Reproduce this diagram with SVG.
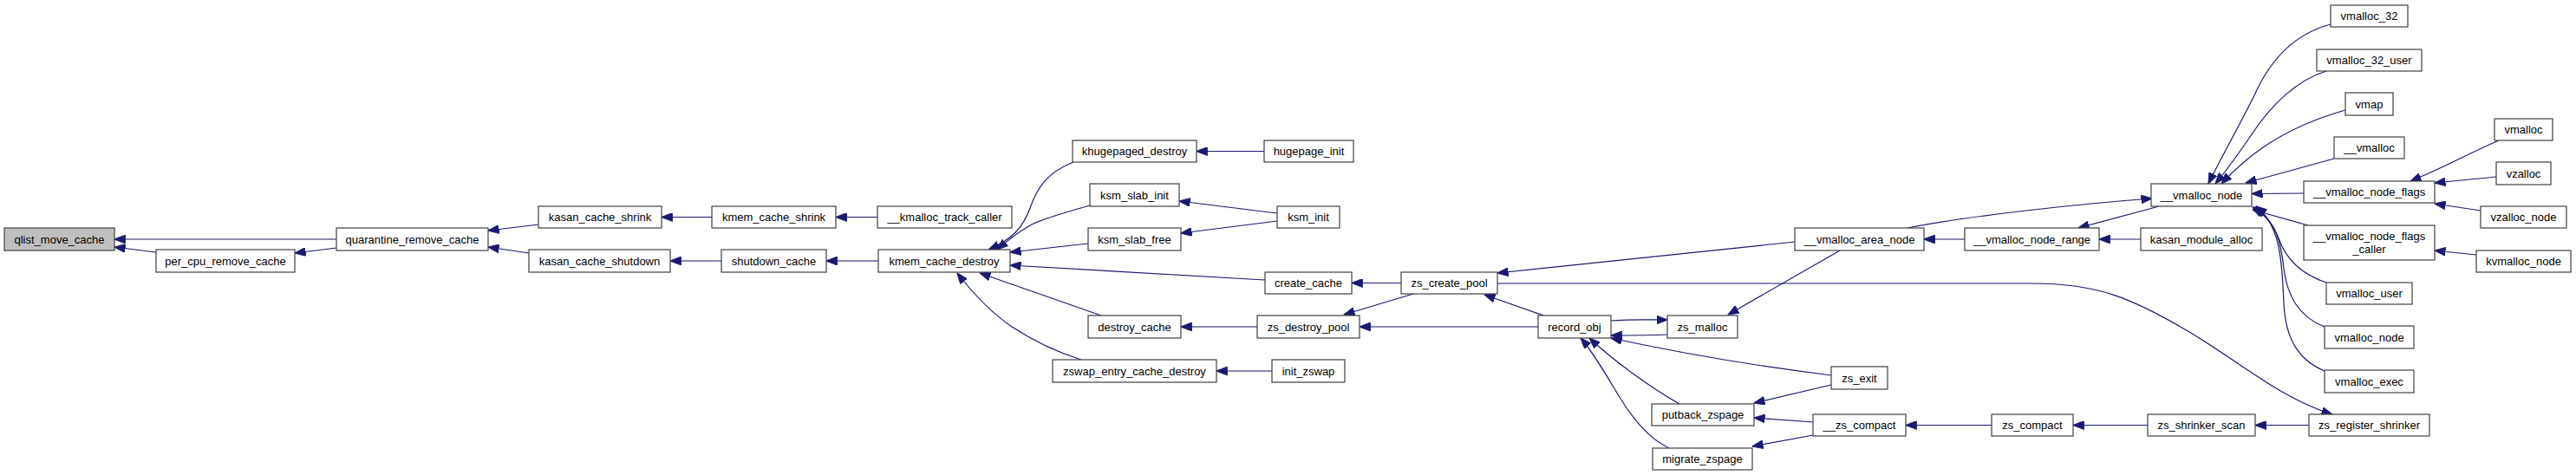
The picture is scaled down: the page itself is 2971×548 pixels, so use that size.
<svg xmlns="http://www.w3.org/2000/svg" width="2971" height="548" viewBox="0 0 2971 548">
<defs>
<style>
.n rect{fill:#ffffff;stroke:#404040;stroke-width:1.2}
.root rect{fill:#bfbfbf}
.n text{font-family:"Liberation Sans",Arial,Helvetica,sans-serif;font-size:13px;text-anchor:middle;fill:#000000}
#edges path{fill:none;stroke:#191970;stroke-width:1.2;marker-end:url(#arr)}
</style>
<marker id="arr" viewBox="0 0 13 10" markerWidth="13" markerHeight="10" refX="12.5" refY="5" orient="auto" markerUnits="userSpaceOnUse">
<path d="M0,0 L13,5 L0,10 Z" fill="#191970" stroke="#191970" stroke-width="0.8"/>
</marker>
</defs>
<rect x="0" y="0" width="2971" height="548" fill="#ffffff"/>
<g id="edges">
<path d="M388,276 L132,276"/>
<path d="M180,291 L132,285"/>
<path d="M388,286 L340,292"/>
<path d="M621,259 L563,266"/>
<path d="M610,292 L563,285"/>
<path d="M821,250.5 L763,250.5"/>
<path d="M1012,250.5 L964,250.5"/>
<path d="M832,301 L773,301"/>
<path d="M1013,301 L953,301"/>
<path d="M1238,187 C1205,200 1195,220 1188,240 C1180,262 1168,276 1140,288"/>
<path d="M1257,237 C1225,246 1205,252 1192,258 C1178,265 1165,275 1150,288"/>
<path d="M1255,281 L1165,291"/>
<path d="M1459,323 L1165,306"/>
<path d="M1270,364 L1130,315"/>
<path d="M1247,415 C1215,405 1190,392 1167,377 C1145,362 1125,342 1104,315"/>
<path d="M1458,174.5 L1380,174.5"/>
<path d="M1473,246 L1360,232"/>
<path d="M1473,255 L1362,269"/>
<path d="M1616,326.5 L1559,326.5"/>
<path d="M1450,377 L1362,377"/>
<path d="M1467,428 L1403,428"/>
<path d="M1630,339 L1550,363"/>
<path d="M1774,377 L1568,377"/>
<path d="M1780,364 L1712,340"/>
<path d="M2070,279 L1727,315"/>
<path d="M1727,327 L2345,327 C2420,327 2460,345 2520,380 C2580,415 2630,460 2690,478"/>
<path d="M1858,370 C1885,368 1905,369 1923,369"/>
<path d="M1923,386 C1900,387 1880,387 1858,387"/>
<path d="M2122,289 L1993,363"/>
<path d="M2112,433 C2040,424 1950,410 1858,390"/>
<path d="M2112,444 L2023,465"/>
<path d="M1937,466 C1900,445 1860,415 1833,390"/>
<path d="M1925,517 C1900,505 1880,480 1860,445 C1845,420 1832,400 1823,390"/>
<path d="M2091,487 L2023,482"/>
<path d="M2091,502 L2021,515"/>
<path d="M2297,490.5 L2198,490.5"/>
<path d="M2477,490.5 L2391,490.5"/>
<path d="M2663,490.5 L2601,490.5"/>
<path d="M2200,263 C2270,249 2400,235 2482,229"/>
<path d="M2266,276 L2219,276"/>
<path d="M2490,238 L2397,263"/>
<path d="M2469,276 L2421,276"/>
<path d="M2688,28 C2650,38 2620,65 2600,110 C2580,150 2560,185 2547,212"/>
<path d="M2683,82 C2650,92 2620,120 2597,155 C2580,180 2565,200 2555,212"/>
<path d="M2705,127 C2670,137 2640,150 2613,168 C2595,180 2578,195 2562,212"/>
<path d="M2692,183 L2590,211"/>
<path d="M2657,223 L2597,223.5"/>
<path d="M2662,260 L2598,242"/>
<path d="M2683,326 C2650,315 2635,295 2628,275 C2622,258 2612,248 2598,239"/>
<path d="M2681,377 C2650,365 2638,340 2634,310 C2631,280 2625,255 2600,239"/>
<path d="M2681,428 C2650,415 2636,390 2634,350 C2632,300 2630,260 2602,238"/>
<path d="M2882,162 C2845,178 2815,195 2780,209"/>
<path d="M2879,204 L2808,211"/>
<path d="M2861,243 L2808,235"/>
<path d="M2856,294 L2808,289"/>
</g>
<g id="qlist_move_cache" class="n root"><rect x="5" y="263" width="127" height="26"/><text x="68.5" y="280.5">qlist_move_cache</text></g>
<g id="per_cpu_remove_cache" class="n"><rect x="180" y="288" width="160" height="26"/><text x="260" y="305.5">per_cpu_remove_cache</text></g>
<g id="quarantine_remove_cache" class="n"><rect x="388" y="263" width="175" height="26"/><text x="475.5" y="280.5">quarantine_remove_cache</text></g>
<g id="kasan_cache_shrink" class="n"><rect x="621" y="238" width="142" height="25"/><text x="692" y="255">kasan_cache_shrink</text></g>
<g id="kasan_cache_shutdown" class="n"><rect x="610" y="288" width="163" height="26"/><text x="691.5" y="305.5">kasan_cache_shutdown</text></g>
<g id="kmem_cache_shrink" class="n"><rect x="821" y="238" width="143" height="25"/><text x="892.5" y="255">kmem_cache_shrink</text></g>
<g id="shutdown_cache" class="n"><rect x="832" y="288" width="121" height="26"/><text x="892.5" y="305.5">shutdown_cache</text></g>
<g id="__kmalloc_track_caller" class="n"><rect x="1012" y="238" width="155" height="25"/><text x="1089.5" y="255">__kmalloc_track_caller</text></g>
<g id="kmem_cache_destroy" class="n"><rect x="1013" y="288" width="152" height="26"/><text x="1089" y="305.5">kmem_cache_destroy</text></g>
<g id="khugepaged_destroy" class="n"><rect x="1237" y="162" width="143" height="25"/><text x="1308.5" y="179">khugepaged_destroy</text></g>
<g id="ksm_slab_init" class="n"><rect x="1257" y="212" width="103" height="26"/><text x="1308.5" y="229.5">ksm_slab_init</text></g>
<g id="ksm_slab_free" class="n"><rect x="1255" y="263" width="107" height="26"/><text x="1308.5" y="280.5">ksm_slab_free</text></g>
<g id="destroy_cache" class="n"><rect x="1255" y="364" width="107" height="26"/><text x="1308.5" y="381.5">destroy_cache</text></g>
<g id="zswap_entry_cache_destroy" class="n"><rect x="1214" y="415" width="189" height="26"/><text x="1308.5" y="432.5">zswap_entry_cache_destroy</text></g>
<g id="hugepage_init" class="n"><rect x="1458" y="162" width="103" height="25"/><text x="1509.5" y="179">hugepage_init</text></g>
<g id="ksm_init" class="n"><rect x="1473" y="238" width="72" height="25"/><text x="1509" y="255">ksm_init</text></g>
<g id="create_cache" class="n"><rect x="1459" y="314" width="100" height="25"/><text x="1509" y="331">create_cache</text></g>
<g id="zs_destroy_pool" class="n"><rect x="1450" y="364" width="118" height="26"/><text x="1509" y="381.5">zs_destroy_pool</text></g>
<g id="init_zswap" class="n"><rect x="1467" y="415" width="84" height="26"/><text x="1509" y="432.5">init_zswap</text></g>
<g id="zs_create_pool" class="n"><rect x="1616" y="314" width="111" height="25"/><text x="1671.5" y="331">zs_create_pool</text></g>
<g id="record_obj" class="n"><rect x="1774" y="364" width="84" height="26"/><text x="1816" y="381.5">record_obj</text></g>
<g id="zs_malloc" class="n"><rect x="1923" y="364" width="81" height="26"/><text x="1963.5" y="381.5">zs_malloc</text></g>
<g id="putback_zspage" class="n"><rect x="1905" y="466" width="118" height="25"/><text x="1964" y="483">putback_zspage</text></g>
<g id="migrate_zspage" class="n"><rect x="1906" y="517" width="115" height="25"/><text x="1963.5" y="534">migrate_zspage</text></g>
<g id="__vmalloc_area_node" class="n"><rect x="2070" y="263" width="149" height="26"/><text x="2144.5" y="280.5">__vmalloc_area_node</text></g>
<g id="zs_exit" class="n"><rect x="2112" y="423" width="65" height="26"/><text x="2144.5" y="440.5">zs_exit</text></g>
<g id="__zs_compact" class="n"><rect x="2091" y="478" width="107" height="25"/><text x="2144.5" y="495">__zs_compact</text></g>
<g id="__vmalloc_node_range" class="n"><rect x="2266" y="263" width="155" height="26"/><text x="2343.5" y="280.5">__vmalloc_node_range</text></g>
<g id="zs_compact" class="n"><rect x="2297" y="478" width="94" height="25"/><text x="2344" y="495">zs_compact</text></g>
<g id="kasan_module_alloc" class="n"><rect x="2469" y="263" width="140" height="26"/><text x="2539" y="280.5">kasan_module_alloc</text></g>
<g id="zs_shrinker_scan" class="n"><rect x="2477" y="478" width="124" height="25"/><text x="2539" y="495">zs_shrinker_scan</text></g>
<g id="__vmalloc_node" class="n"><rect x="2481" y="212" width="116" height="26"/><text x="2539" y="229.5">__vmalloc_node</text></g>
<g id="vmalloc_32" class="n"><rect x="2688" y="6" width="89" height="25"/><text x="2732.5" y="23">vmalloc_32</text></g>
<g id="vmalloc_32_user" class="n"><rect x="2672" y="57" width="121" height="25"/><text x="2732.5" y="74">vmalloc_32_user</text></g>
<g id="vmap" class="n"><rect x="2705" y="107" width="55" height="26"/><text x="2732.5" y="124.5">vmap</text></g>
<g id="__vmalloc" class="n"><rect x="2692" y="158" width="81" height="25"/><text x="2732.5" y="175">__vmalloc</text></g>
<g id="__vmalloc_node_flags" class="n"><rect x="2657" y="209" width="151" height="25"/><text x="2732.5" y="226">__vmalloc_node_flags</text></g>
<g id="__vmalloc_node_flags_caller" class="n"><rect x="2657" y="260" width="151" height="40"/><text x="2732.5" y="277">__vmalloc_node_flags</text><text x="2732.5" y="292">_caller</text></g>
<g id="vmalloc_user" class="n"><rect x="2683" y="326" width="99" height="25"/><text x="2732.5" y="343">vmalloc_user</text></g>
<g id="vmalloc_node" class="n"><rect x="2681" y="376" width="103" height="26"/><text x="2732.5" y="393.5">vmalloc_node</text></g>
<g id="vmalloc_exec" class="n"><rect x="2681" y="427" width="103" height="26"/><text x="2732.5" y="444.5">vmalloc_exec</text></g>
<g id="zs_register_shrinker" class="n"><rect x="2663" y="478" width="139" height="25"/><text x="2732.5" y="495">zs_register_shrinker</text></g>
<g id="vmalloc" class="n"><rect x="2877" y="137" width="67" height="25"/><text x="2910.5" y="154">vmalloc</text></g>
<g id="vzalloc" class="n"><rect x="2879" y="187" width="63" height="26"/><text x="2910.5" y="204.5">vzalloc</text></g>
<g id="vzalloc_node" class="n"><rect x="2861" y="238" width="99" height="25"/><text x="2910.5" y="255">vzalloc_node</text></g>
<g id="kvmalloc_node" class="n"><rect x="2856" y="289" width="109" height="25"/><text x="2910.5" y="306">kvmalloc_node</text></g>
</svg>
